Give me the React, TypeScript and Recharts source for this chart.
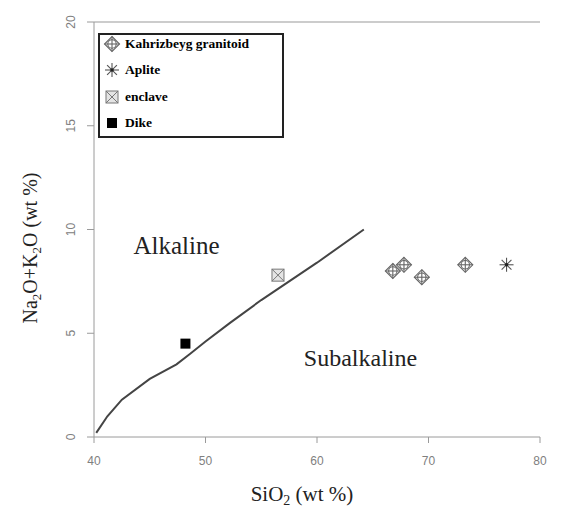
import { ScatterChart, Scatter, XAxis, YAxis, ReferenceLine, ReferenceDot } from 'recharts';

const xTicks = [40, 50, 60, 70, 80];
const yTicks = [0, 5, 10, 15, 20];

const boundary = [
  { x: 40.2, y: 0.2 },
  { x: 41.2, y: 1.0 },
  { x: 42.5, y: 1.8 },
  { x: 45, y: 2.8 },
  { x: 47.4, y: 3.5 },
  { x: 48.6, y: 4.0 },
  { x: 50, y: 4.6 },
  { x: 52.2, y: 5.5 },
  { x: 55, y: 6.6 },
  { x: 60, y: 8.4 },
  { x: 64.2, y: 10 },
];

const granitoid = [
  { x: 66.8, y: 8.0 },
  { x: 67.8, y: 8.3 },
  { x: 69.4, y: 7.7 },
  { x: 73.3, y: 8.3 },
];
const aplite = [{ x: 77.0, y: 8.3 }];
const enclave = [{ x: 56.5, y: 7.8 }];
const dike = [{ x: 48.2, y: 4.5 }];

const serif = '"Liberation Serif", "DejaVu Serif", serif';
const sans = '"Liberation Sans", Arial, sans-serif';
const axisGray = '#9a9a9a';

function GranitoidIcon({ cx, cy }: any) {
  return (
    <g stroke="#666" strokeWidth={1.1} fill="none">
      <path d={`M${cx},${cy - 7.5} L${cx + 7.5},${cy} L${cx},${cy + 7.5} L${cx - 7.5},${cy} Z`} fill="#fff" />
      <circle cx={cx} cy={cy} r={4.2} />
      <line x1={cx - 7.5} y1={cy} x2={cx + 7.5} y2={cy} />
      <line x1={cx} y1={cy - 7.5} x2={cx} y2={cy + 7.5} />
    </g>
  );
}

function ApliteIcon({ cx, cy }: any) {
  const r = 7;
  const d = r * 0.7;
  return (
    <g stroke="#555" strokeWidth={1.1}>
      <line x1={cx - r} y1={cy} x2={cx + r} y2={cy} />
      <line x1={cx} y1={cy - r} x2={cx} y2={cy + r} />
      <line x1={cx - d} y1={cy - d} x2={cx + d} y2={cy + d} />
      <line x1={cx - d} y1={cy + d} x2={cx + d} y2={cy - d} />
      <circle cx={cx} cy={cy} r={1.8} fill="#222" stroke="none" />
    </g>
  );
}

function EnclaveIcon({ cx, cy }: any) {
  return (
    <g stroke="#777" strokeWidth={1}>
      <rect x={cx - 6} y={cy - 6} width={12} height={12} fill="#e4e4e4" />
      <line x1={cx - 6} y1={cy - 6} x2={cx + 6} y2={cy + 6} />
      <line x1={cx - 6} y1={cy + 6} x2={cx + 6} y2={cy - 6} />
    </g>
  );
}

function DikeIcon({ cx, cy }: any) {
  return <rect x={cx - 5} y={cy - 5} width={10} height={10} fill="#000" />;
}

const legendItems = [
  { name: 'Kahrizbeyg granitoid', Icon: GranitoidIcon },
  { name: 'Aplite', Icon: ApliteIcon },
  { name: 'enclave', Icon: EnclaveIcon },
  { name: 'Dike', Icon: DikeIcon },
];

function LegendBox() {
  return (
    <div
      style={{
        position: 'absolute',
        left: 98,
        top: 33,
        border: '2px solid #222',
        width: 186,
        height: 105,
        background: '#fff',
        fontFamily: serif,
        fontWeight: 'bold',
        fontSize: 13.5,
        boxSizing: 'border-box',
        overflow: 'hidden',
      }}
    >
      <div style={{ position: 'relative', top: -4, left: 3 }}>
        {legendItems.map(({ name, Icon }) => (
          <div key={name} style={{ display: 'flex', alignItems: 'center', height: 26.3 }}>
            <svg width={20} height={20}>
              <Icon cx={9} cy={10} />
            </svg>
            <span style={{ marginLeft: 2 }}>{name}</span>
          </div>
        ))}
      </div>
    </div>
  );
}

function YTick({ x, y, payload }: any) {
  return (
    <text
      x={x - 10}
      y={y}
      transform={`rotate(-90, ${x - 10}, ${y})`}
      textAnchor="middle"
      fill="#808080"
      fontSize={12}
      fontFamily={sans}
    >
      {payload.value}
    </text>
  );
}

function XTick({ x, y, payload }: any) {
  return (
    <text x={x} y={y + 20} textAnchor="middle" fill="#808080" fontSize={12} fontFamily={sans}>
      {payload.value}
    </text>
  );
}

function YLabel() {
  return (
    <text
      x={37}
      y={248}
      transform="rotate(-90, 37, 248)"
      textAnchor="middle"
      fontFamily={serif}
      fontSize={20}
      fill="#222"
    >
      Na<tspan dy={4} fontSize={13}>2</tspan>
      <tspan dy={-4}>O+K</tspan>
      <tspan dy={4} fontSize={13}>2</tspan>
      <tspan dy={-4}>O (wt %)</tspan>
    </text>
  );
}

function XLabel() {
  return (
    <text x={302} y={501} textAnchor="middle" fontFamily={serif} fontSize={21} fill="#222">
      SiO<tspan dy={4} fontSize={14}>2</tspan>
      <tspan dy={-4}> (wt %)</tspan>
    </text>
  );
}

export default function App() {
  return (
    <div style={{ position: 'absolute', left: 0, top: 0, width: 567, height: 510, background: '#fff' }}>
      <ScatterChart width={567} height={510} margin={{ top: 22, right: 27, bottom: 0, left: 0 }}>
        <XAxis
          type="number"
          dataKey="x"
          domain={[40, 80]}
          ticks={xTicks}
          height={73}
          stroke={axisGray}
          tickSize={6}
          tick={<XTick />}
          label={<XLabel />}
        />
        <YAxis
          type="number"
          dataKey="y"
          domain={[0, 20]}
          ticks={yTicks}
          width={94}
          stroke={axisGray}
          tickSize={7}
          tick={<YTick />}
          label={<YLabel />}
        />
        <ReferenceLine y={20} stroke={axisGray} strokeWidth={1.2} />
        <Scatter
          data={boundary}
          line={{ stroke: '#444', strokeWidth: 2 }}
          lineType="joint"
          shape={() => null}
          isAnimationActive={false}
        />
        <Scatter data={granitoid} shape={<GranitoidIcon />} isAnimationActive={false} />
        <Scatter data={aplite} shape={<ApliteIcon />} isAnimationActive={false} />
        <Scatter data={enclave} shape={<EnclaveIcon />} isAnimationActive={false} />
        <Scatter data={dike} shape={<DikeIcon />} isAnimationActive={false} />
        <ReferenceDot
          x={47.4}
          y={9.25}
          r={0}
          label={{ value: 'Alkaline', fontFamily: serif, fontSize: 25, fill: '#222', position: 'center' }}
        />
        <ReferenceDot
          x={63.9}
          y={3.85}
          r={0}
          label={{ value: 'Subalkaline', fontFamily: serif, fontSize: 24, fill: '#222', position: 'center' }}
        />
      </ScatterChart>
      <LegendBox />
    </div>
  );
}
